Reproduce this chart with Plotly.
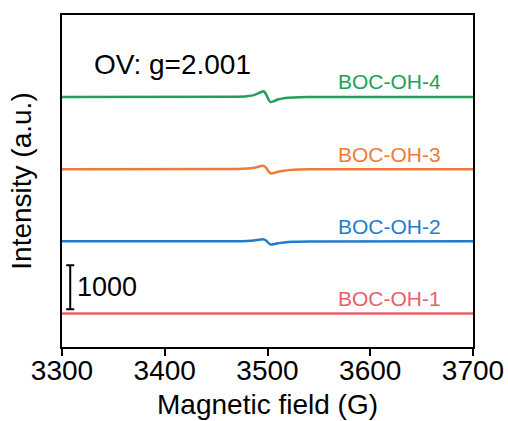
import plotly.graph_objects as go

# EPR spectra (magnetic field in G, intensity in a.u. before stacking)
field = [3300, 3470, 3480, 3487, 3492, 3495, 3497, 3499, 3501, 3503, 3506, 3510, 3516, 3525, 3540, 3700]
boc_oh_1 = [0, 0, 0, 0, 0, 0, 0, 0, 0, 0, 0, 0, 0, 0, 0, 0]
boc_oh_2 = [0, 3, 8, 20, 38, 45, 40, 10, -40, -70, -65, -45, -25, -10, -3, 0]
boc_oh_3 = [0, 5, 12, 30, 60, 75, 65, 20, -50, -95, -90, -60, -35, -15, -5, 0]
boc_oh_4 = [0, 5, 15, 40, 90, 125, 115, 40, -60, -115, -100, -60, -30, -12, -4, 0]

names = ["BOC-OH-1", "BOC-OH-2", "BOC-OH-3", "BOC-OH-4"]
offsets = [0, 1640, 3280, 4920]
colors = ["#e8606c", "#1f7ccc", "#f07a38", "#22a05a"]

x_ticks = [3300, 3400, 3500, 3600, 3700]
scale_value = 1000

FONT = "Liberation Sans, Arial, sans-serif"

fig = go.Figure()
series = [boc_oh_1, boc_oh_2, boc_oh_3, boc_oh_4]
for name, ys, off, col in zip(names, series, offsets, colors):
    fig.add_trace(go.Scatter(
        x=field, y=[v + off for v in ys], mode="lines", name=name,
        line=dict(color=col, width=2.5, shape="spline", smoothing=0.7),
        showlegend=False,
    ))
    fig.add_annotation(
        x=3619, y=off, text=name, showarrow=False, yshift=15,
        xanchor="center", yanchor="middle",
        font=dict(family=FONT, size=21, color=col),
    )

# scale bar for intensity
fig.add_trace(go.Scatter(
    x=[3308], y=[100 + scale_value / 2], mode="markers",
    marker=dict(size=0.1, color="black"),
    error_y=dict(type="data", array=[scale_value / 2], symmetric=True,
                 color="black", thickness=2, width=4),
    showlegend=False, hoverinfo="skip",
))
fig.add_annotation(
    x=3313, y=100 + scale_value / 2, text=str(scale_value), showarrow=False,
    xanchor="left", yanchor="middle",
    font=dict(family=FONT, size=27, color="black"),
)

fig.add_annotation(
    x=0.27, y=0.85, xref="paper", yref="paper", text="OV: g=2.001",
    showarrow=False, xanchor="center", yanchor="middle",
    font=dict(family=FONT, size=28, color="black"),
)

fig.update_layout(
    width=508, height=421,
    margin=dict(l=62, r=35, t=15, b=74),
    paper_bgcolor="white", plot_bgcolor="white",
    font=dict(family=FONT, size=28, color="black"),
    xaxis=dict(
        range=[3300, 3700], tickvals=x_ticks, automargin=False,
        ticks="outside", ticklen=7, tickwidth=2, tickcolor="black",
        ticklabelstandoff=-10,
        showline=True, linewidth=2, linecolor="black", mirror=True,
        showgrid=False, zeroline=False,
        tickfont=dict(family=FONT, size=28),
        title=dict(text="Magnetic field (G)", font=dict(family=FONT, size=28), standoff=10),
    ),
    yaxis=dict(
        range=[-759, 6780], automargin=False,
        showticklabels=False, ticks="",
        showline=True, linewidth=2, linecolor="black", mirror=True,
        showgrid=False, zeroline=False,
        title=dict(text="Intensity (a.u.)", font=dict(family=FONT, size=28), standoff=20),
    ),
)

fig.write_html("out.html")
